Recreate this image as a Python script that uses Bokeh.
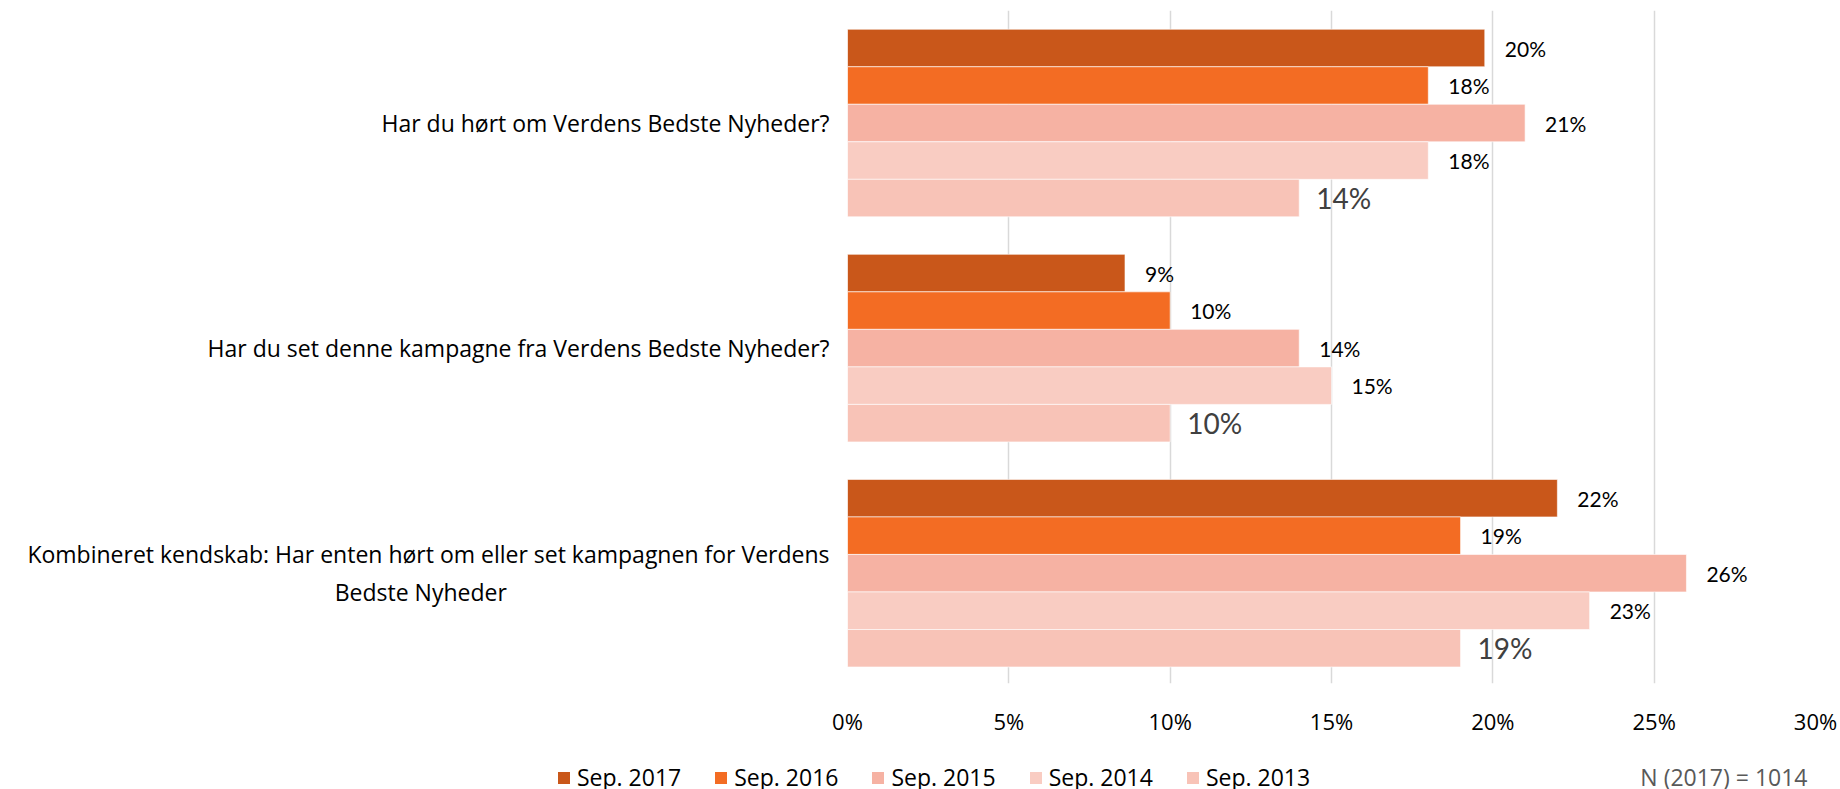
from bokeh.plotting import figure
from bokeh.layouts import column
from bokeh.models import (ColumnDataSource, Range1d, FixedTicker, Legend, LegendItem, Label)
from bokeh.core.properties import value
from bokeh.embed import file_html
from bokeh.resources import INLINE

# ---- data ----
questions = [
    "Har du hørt om Verdens Bedste Nyheder?",
    "Har du set denne kampagne fra Verdens Bedste Nyheder?",
    "Kombineret kendskab: Har enten hørt om eller set kampagnen for Verdens\nBedste Nyheder" + "\u00a0" * 54,
]
series_names = ["Sep. 2017", "Sep. 2016", "Sep. 2015", "Sep. 2014", "Sep. 2013"]
sep2017 = [19.75, 8.6, 22.0]
sep2016 = [18.0, 10.0, 19.0]
sep2015 = [21.0, 14.0, 26.0]
sep2014 = [18.0, 15.0, 23.0]
sep2013 = [14.0, 10.0, 19.0]
x_ticks = [0, 5, 10, 15, 20, 25, 30]
note_text = "N (2017) = 1014"

colors = ["#C9571A", "#F36C23", "#F6B2A3", "#F9CCC2", "#F8C3B7"]
all_series = [sep2017, sep2016, sep2015, sep2014, sep2013]

FONT = "Open Sans"
LFONT = "Lato"
BAR_H = 1.0 / 6.0
W = 1840
H_MAIN = 745
H_LEG = 44

p = figure(width=W, height=H_MAIN, output_backend="svg", toolbar_location=None,
           x_range=Range1d(0, 30), y_range=Range1d(2.49, -0.5),
           min_border_left=847, min_border_right=25, min_border_top=10,
           min_border_bottom=H_MAIN - 683)
p.outline_line_color = None
p.background_fill_color = "white"
p.border_fill_color = "white"

sources = []
for k, (name, vals, col) in enumerate(zip(series_names, all_series, colors)):
    ys = [i + (k - 2) * BAR_H for i in range(len(vals))]
    src = ColumnDataSource(dict(y=ys, right=vals,
                                lab=[f"{round(v):d}%" for v in vals]))
    sources.append(src)
    p.hbar(y="y", left=0, right="right", height=BAR_H, source=src,
           fill_color=col, line_color="white", line_width=1, line_alpha=0.6)
    is_last = (k == len(series_names) - 1)
    p.text(x="right", y="y", text="lab", source=src,
           x_offset=17 if is_last else 20,
           text_align="left", text_baseline="middle",
           text_font=value(LFONT),
           text_font_size="28px" if is_last else "21px",
           text_color="#404040" if is_last else "#000000")

# axes
p.xaxis.ticker = FixedTicker(ticks=x_ticks)
p.xaxis.major_label_overrides = {t: f"{t}%" for t in x_ticks}
p.xaxis.axis_line_color = None
p.xaxis.major_tick_line_color = None
p.xaxis.minor_tick_line_color = None
p.xaxis.major_label_standoff = 16
p.xaxis.major_label_text_font = FONT
p.xaxis.major_label_text_font_size = "22px"
p.xaxis.major_label_text_color = "#000000"

p.yaxis.ticker = FixedTicker(ticks=[0, 1, 2])
p.yaxis.major_label_overrides = {i: q for i, q in enumerate(questions)}
p.yaxis.axis_line_color = None
p.yaxis.major_tick_line_color = None
p.yaxis.minor_tick_line_color = None
p.yaxis.major_label_standoff = 12
p.yaxis.major_label_text_font = FONT
p.yaxis.major_label_text_font_size = "23px"
p.yaxis.major_label_text_color = "#000000"

p.ygrid.grid_line_color = None
p.xgrid.grid_line_color = "#D9D9D9"
p.xgrid.grid_line_width = 1.5

# ---- legend strip: separate figure, its frame covers the whole strip ----
lg = figure(width=W, height=H_LEG, output_backend="svg", toolbar_location=None,
            x_range=Range1d(0, W), y_range=Range1d(1000, 1000 + H_LEG),
            x_axis_location=None, y_axis_location=None,
            min_border_left=0, min_border_right=0, min_border_top=0, min_border_bottom=0)
lg.grid.visible = False
lg.outline_line_color = None
lg.border_fill_color = "white"
lg.background_fill_color = "white"
for fig in (p, lg):
    try:
        fig.frame_align = False
    except Exception:
        pass

# legend swatches reuse the series' own data (they lie outside this strip's view)
leg_renderers = [lg.hbar(y="y", left=0, right="right", height=BAR_H, source=src,
                         fill_color=c, line_color=None)
                 for src, c in zip(sources, colors)]

legend = Legend(items=[LegendItem(label=n, renderers=[r]) for n, r in zip(series_names, leg_renderers)],
                orientation="horizontal", location=(556, -4),
                glyph_width=15, glyph_height=15, label_standoff=6, spacing=32,
                padding=0, margin=0, border_line_color=None,
                background_fill_alpha=0,
                label_text_font=FONT, label_text_font_size="23px",
                label_text_color="#000000", label_height=20)
lg.add_layout(legend, "center")

note = Label(x=1807, y=1013, text=note_text, text_align="right", text_baseline="middle",
             text_font=FONT, text_font_size="23px", text_color="#595959")
lg.add_layout(note)

layout = column(p, lg, spacing=0)
open("out.html", "w").write(file_html(layout, INLINE))
